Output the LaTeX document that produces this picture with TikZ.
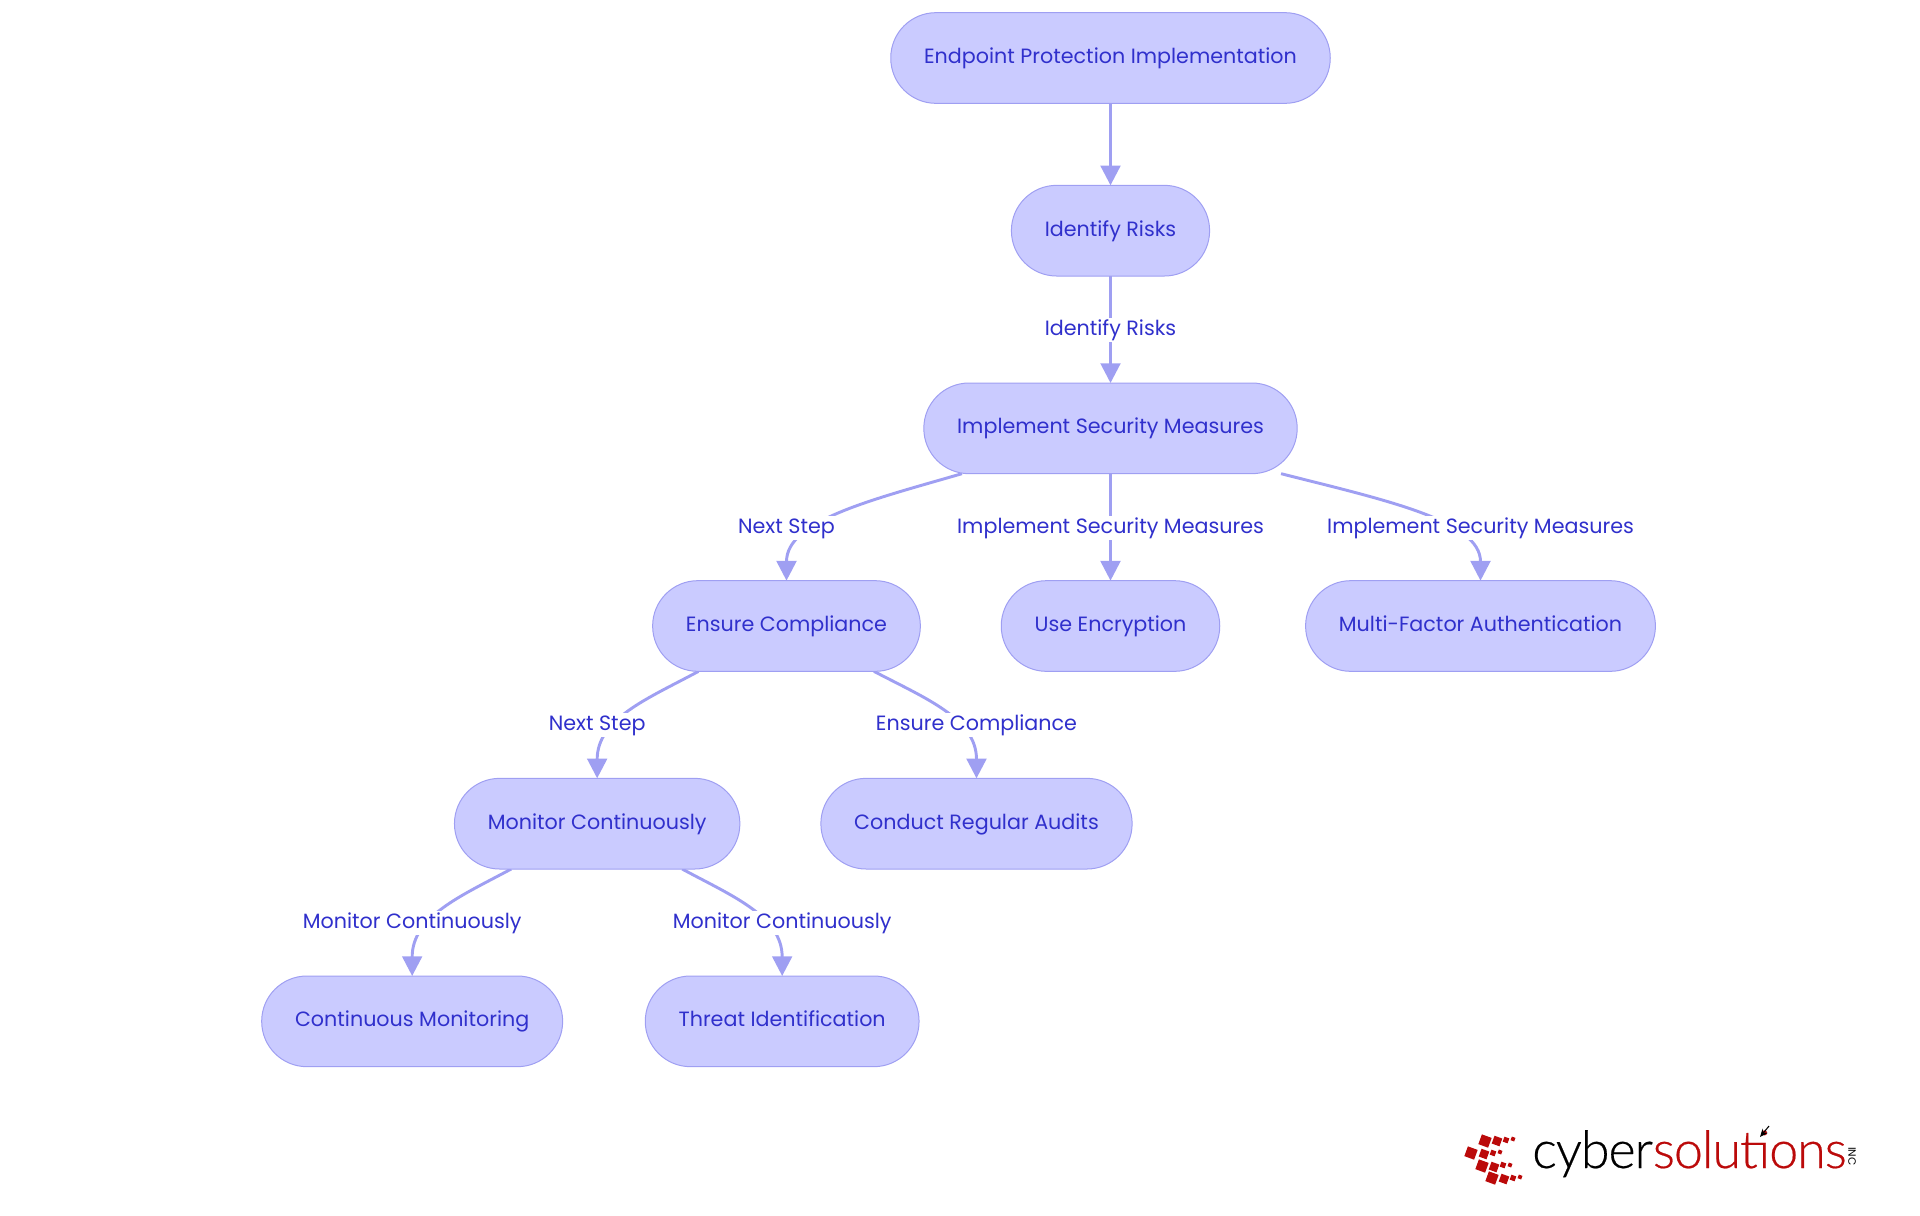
\documentclass[tikz,border=0pt]{standalone}
\usepackage{fontspec}
\setmainfont{Poppins}
\newfontfamily\logofont[LetterSpace=-2,FakeBold=0.4]{Lato Light}
\usepackage{xcolor}
\usetikzlibrary{arrows.meta,positioning,backgrounds}
\definecolor{nodefill}{HTML}{CACBFF}
\definecolor{nodeline}{HTML}{9F9FF2}
\definecolor{nodetext}{HTML}{3030CC}
\definecolor{logored}{HTML}{BB0A0A}

\begin{document}
\begin{tikzpicture}[x=0.75pt, y=-0.75pt,
  stage/.style={draw=nodeline, line width=0.75pt, rounded corners=33.9pt, fill=nodefill,
    text=nodetext, font=\fontsize{15.5}{18}\selectfont, minimum height=68pt, inner xsep=25pt, inner ysep=0pt,
    outer sep=0pt, text height=11.5pt, text depth=3.5pt},
  lbl/.style={text=nodetext, font=\fontsize{15.5}{18}\selectfont, fill=white, inner xsep=0pt, inner ysep=0pt,
    outer sep=0pt, minimum height=18pt, text height=11.5pt, text depth=3.5pt},
  e/.style={-{Triangle[width=14.8pt,length=14.8pt]}, nodeline, line width=2.2pt},
  tile/.style={fill=logored, inner sep=0pt, rotate=-20}
]
  \useasboundingbox (0,0) rectangle (1920,1215);
  \node[stage] (root) at (1110.5,58) {Endpoint Protection Implementation};
  \node[stage, below=61.5pt of root] (risks) {Identify Risks};
  \node[stage, below=80.25pt of risks] (impl) {Implement Security Measures};
  \node[stage, below=80.25pt of impl, xshift=-243pt] (comp) {Ensure Compliance};
  \node[stage, below=80.25pt of impl] (encr) {Use Encryption};
  \node[stage, below=80.25pt of impl, xshift=277.5pt] (mfa) {Multi-Factor Authentication};
  \node[stage, below=80.25pt of comp, xshift=-142pt] (mon) {Monitor Continuously};
  \node[stage, below=80.25pt of comp, xshift=142.5pt] (audit) {Conduct Regular Audits};
  \node[stage, below=80.25pt of mon, xshift=-138.75pt] (cont) {Continuous Monitoring};
  \node[stage, below=80.25pt of mon, xshift=138.75pt] (threat) {Threat Identification};

  \node[lbl, above=30.75pt of impl] (l1) {Identify Risks};
  \node[lbl, above=30.75pt of comp] (l2) {Next Step};
  \node[lbl, above=30.75pt of encr] (l3) {Implement Security Measures};
  \node[lbl, above=30.75pt of mfa] (l4) {Implement Security Measures};
  \node[lbl, above=30.75pt of mon] (l5) {Next Step};
  \node[lbl, above=30.75pt of audit] (l6) {Ensure Compliance};
  \node[lbl, above=30.75pt of cont] (l7) {Monitor Continuously};
  \node[lbl, above=30.75pt of threat] (l8) {Monitor Continuously};

  \begin{scope}[on background layer]
    \draw[e] (root) -- (risks);
    \draw[e] (risks) -- (impl);
    \draw[e] ([xshift=-111.4pt]impl.south) .. controls +(-69pt,-20pt) and +(0pt,45pt) .. (comp.north);
    \draw[e] (impl) -- (encr);
    \draw[e] ([xshift=127.9pt]impl.south) .. controls +(79pt,-20pt) and +(0pt,45pt) .. (mfa.north);
    \draw[e] ([xshift=-66pt]comp.south) .. controls +(-37pt,-20pt) and +(0pt,45pt) .. (mon.north);
    \draw[e] ([xshift=65.6pt]comp.south) .. controls +(38pt,-20pt) and +(0pt,45pt) .. (audit.north);
    \draw[e] ([xshift=-64.5pt]mon.south) .. controls +(-37pt,-20pt) and +(0pt,45pt) .. (cont.north);
    \draw[e] ([xshift=63.75pt]mon.south) .. controls +(37pt,-20pt) and +(0pt,45pt) .. (threat.north);
  \end{scope}

  % logo
  \foreach \tx/\ty/\ts in {1485/1141/7.8, 1497/1141/6.2, 1506/1140/3.9, 1513/1139/2.9,
    1471/1153/7.8, 1484/1154/6.2, 1493/1153/3.9, 1500/1152/2.9,
    1482/1166/7.8, 1494/1167/6.2, 1503/1165/3.9, 1510/1165/2.9,
    1492/1178/7.8, 1504/1179/6.2, 1513/1178/3.9, 1520/1177/2.9}
    \node[tile, minimum size=\ts pt] at (\tx,\ty) {};
  \node[anchor=base west, inner sep=0pt, font=\logofont\fontsize{39}{39}\selectfont] (logo) at (1532,1168)
    {cyber\textcolor{logored}{solutions}};
  \node[anchor=center, inner sep=0pt, rotate=-90, font=\fontsize{8}{8}\selectfont] (inc) at (1852,1156.5) {INC};
  \coordinate (tip) at (1760,1137);
  \coordinate (tail) at (1769,1126);
  \draw[-{Stealth[length=6pt,width=5pt]}, black, line width=0.8pt] (tail) -- (tip);
\end{tikzpicture}
\end{document}
